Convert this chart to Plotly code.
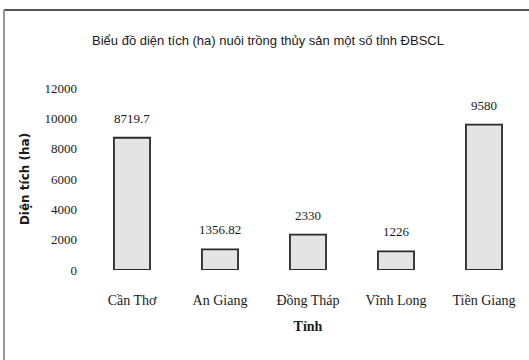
import plotly.graph_objects as go

# Diện tích nuôi trồng thủy sản (ha) theo tỉnh
provinces = ["Cần Thơ", "An Giang", "Đồng Tháp", "Vĩnh Long", "Tiền Giang"]
area_ha = [8719.7, 1356.82, 2330, 1226, 9580]
value_labels = ["8719.7", "1356.82", "2330", "1226", "9580"]
y_ticks = [0, 2000, 4000, 6000, 8000, 10000, 12000]
y_tick_text = ["0", "2000", "4000", "6000", "8000", "10000", "12000"]

serif = "Liberation Serif, Times New Roman, serif"

fig = go.Figure(
    go.Bar(
        x=provinces,
        y=area_ha,
        marker=dict(color="#e4e4e4", line=dict(color="#2a2a2a", width=1.8)),
        width=0.41,
        hoverinfo="x+y",
    )
)

# value labels above each bar
for p, v, t in zip(provinces, area_ha, value_labels):
    fig.add_annotation(
        x=p, y=v, text=t, showarrow=False, yanchor="bottom", yshift=10,
        font=dict(family=serif, size=13, color="#1a1a1a"),
    )

fig.update_layout(
    width=529,
    height=360,
    margin=dict(l=88, r=1, t=88, b=90),
    paper_bgcolor="white",
    plot_bgcolor="white",
    showlegend=False,
    title=dict(
        text="Biểu đồ diện tích (ha) nuôi trồng thủy sản một số tỉnh ĐBSCL",
        x=268 / 529, y=1 - 40 / 360, xanchor="center", yanchor="middle",
        font=dict(family="Liberation Sans, Arial, sans-serif", size=13, color="#1a1a1a"),
    ),
    xaxis=dict(
        range=[-0.5, 4.5],
        showline=False, showgrid=False, zeroline=False, ticks="",
        ticklabelstandoff=20,
        tickfont=dict(family=serif, size=14, color="#1a1a1a"),
        title=dict(text="<b>Tỉnh</b>", standoff=14,
                   font=dict(family=serif, size=14, color="#1a1a1a")),
    ),
    yaxis=dict(
        range=[0, 12000],
        tickvals=y_ticks,
        ticktext=y_tick_text,
        showline=False, showgrid=False, zeroline=False, ticks="",
        ticklabelstandoff=10,
        tickfont=dict(family=serif, size=13, color="#1a1a1a"),
        title=dict(text="<b>Diện tích (ha)</b>", standoff=12,
                   font=dict(family="DejaVu Sans, sans-serif", size=12, color="#1a1a1a")),
    ),
    shapes=[
        # outer frame: top and left edges
        dict(type="line", xref="paper", yref="paper",
             x0=-84 / 440, x1=1.01, y0=1 + 78 / 182, y1=1 + 78 / 182,
             line=dict(color="#555555", width=2)),
        dict(type="line", xref="paper", yref="paper",
             x0=-84 / 440, x1=-84 / 440, y0=1 + 78 / 182, y1=-92 / 182,
             line=dict(color="#999999", width=2)),
    ],
)

fig.write_html("out.html")
